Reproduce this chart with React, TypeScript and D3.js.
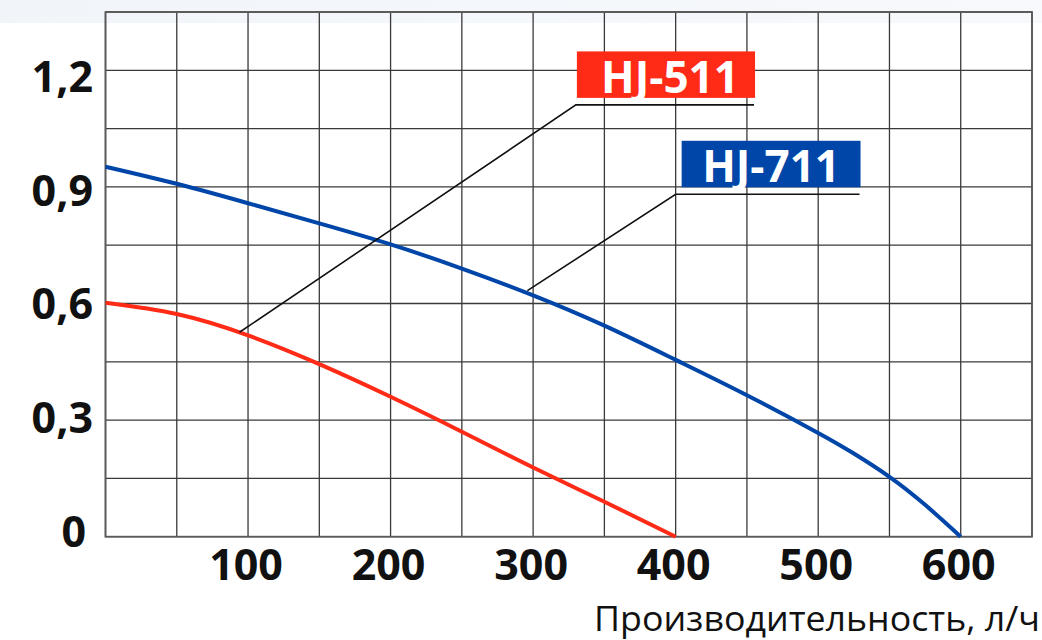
import React from "react";
import * as d3 from "d3";

const xTicks = [100, 200, 300, 400, 500, 600];
const yTicks = [0, 0.3, 0.6, 0.9, 1.2];
const yTickLabels = ["0", "0,3", "0,6", "0,9", "1,2"];
const xGrid = d3.range(0, 651, 50);
const yGrid = d3.range(0, 1.351, 0.15);

const hj711X = [0, 50, 100, 150, 200, 250, 300, 350, 400, 450, 500, 525, 550, 575, 600];
const hj711Y = [0.952, 0.908, 0.858, 0.806, 0.752, 0.69, 0.621, 0.543, 0.455, 0.364, 0.267, 0.214, 0.154, 0.082, 0];

const hj511X = [0, 50, 100, 150, 200, 250, 300, 350, 400];
const hj511Y = [0.602, 0.573, 0.518, 0.444, 0.36, 0.27, 0.178, 0.09, 0];

const seriesNames = ["HJ-511", "HJ-711"];
const seriesColors = ["#ff2b17", "#0046a8"];
// leader anchors (data units): point on curve, elbow, end of underline
const anchorX = [94, 296];
const anchorY = [0.526, 0.633];
const elbowX = [330, 400];
const elbowY = [1.111, 0.881];
const endX = [455, 529];

const xTitle = "Производительность, л/ч";

export default function App() {
  const W = 1042, H = 640;
  const x = d3.scaleLinear().domain([0, 650]).range([105.5, 1032]);
  const y = d3.scaleLinear().domain([0, 1.35]).range([536.7, 12]);
  const labelShift = d3.scaleLinear().domain([0, 1.2]).range([-5, 6]);

  const line = d3
    .line<[number, number]>()
    .x((d) => x(d[0]))
    .y((d) => y(d[1]))
    .curve(d3.curveNatural);

  const blue = line(hj711X.map((v, i) => [v, hj711Y[i]]) as [number, number][]) || "";
  const red = line(hj511X.map((v, i) => [v, hj511Y[i]]) as [number, number][]) || "";

  const font = "'Open Sans', 'DejaVu Sans', sans-serif";

  return (
    <svg
      width={W}
      height={H}
      style={{ position: "absolute", left: 0, top: 0, background: "#fff" }}
      fontFamily={font}
    >
      <defs>
        <linearGradient id="band" x1="0" x2="1" y1="0" y2="0">
          <stop offset="0" stopColor="#f1f5fa" />
          <stop offset="1" stopColor="#f7f9fc" />
        </linearGradient>
      </defs>
      <rect x={0} y={0} width={W} height={23} fill="url(#band)" />

      {/* grid */}
      {xGrid.map((v) => (
        <line key={"gx" + v} x1={x(v)} x2={x(v)} y1={y(1.35)} y2={y(0)} stroke="#3a3a3a" strokeWidth={1.3} />
      ))}
      {yGrid.map((v) => (
        <line key={"gy" + v} x1={x(0)} x2={x(650)} y1={y(v)} y2={y(v)} stroke="#3a3a3a" strokeWidth={1.3} />
      ))}
      <rect
        x={x(0)}
        y={y(1.35)}
        width={x(650) - x(0)}
        height={y(0) - y(1.35)}
        fill="none"
        stroke="#5a5a5a"
        strokeWidth={1.8}
      />

      {/* curves */}
      <path d={red} fill="none" stroke={seriesColors[0]} strokeWidth={4} />
      <path d={blue} fill="none" stroke={seriesColors[1]} strokeWidth={4} />

      {/* leaders and labels */}
      {seriesNames.map((name, i) => {
        const ex = x(elbowX[i]);
        const ey = y(elbowY[i]);
        const boxL = i === 0 ? ex + 1 : ex + 6;
        const boxR = x(endX[i]) + 1;
        const boxB = ey - 7;
        const boxT = boxB - 46.5;
        return (
          <g key={name}>
            <polyline
              points={`${x(anchorX[i])},${y(anchorY[i])} ${ex},${ey} ${x(endX[i])},${ey}`}
              fill="none"
              stroke="#111"
              strokeWidth={1.6}
            />
            <rect x={boxL} y={boxT} width={boxR - boxL} height={boxB - boxT} fill={seriesColors[i]} />
            <text
              x={(boxL + boxR) / 2 + (i === 0 ? 4 : 0)}
              y={boxB - 5}
              textAnchor="middle"
              fill="#fff"
              fontWeight={700}
              fontSize={44}
            >
              {name}
            </text>
          </g>
        );
      })}

      {/* y tick labels */}
      {yTicks.map((v, i) => (
        <text
          key={"yt" + v}
          x={v === 0 ? 86 : 93}
          y={y(v) + labelShift(v)}
          dy="0.36em"
          textAnchor="end"
          fontWeight={700}
          fontSize={43}
          fill="#111"
        >
          {yTickLabels[i]}
        </text>
      ))}

      {/* x tick labels */}
      {xTicks.map((v) => (
        <text
          key={"xt" + v}
          x={x(v) - 2}
          y={580}
          textAnchor="middle"
          fontWeight={700}
          fontSize={43}
          fill="#111"
        >
          {String(v)}
        </text>
      ))}

      <text x={1040} y={631} textAnchor="end" fontSize={34} fill="#111" textLength={446} lengthAdjust="spacingAndGlyphs">
        {xTitle}
      </text>
    </svg>
  );
}
